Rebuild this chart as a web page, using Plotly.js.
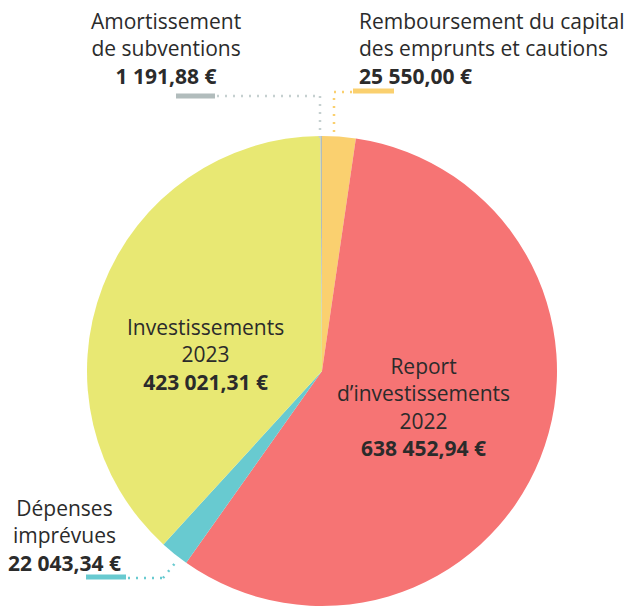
<!DOCTYPE html>
<html>
<head>
<meta charset="utf-8">
<script src="https://cdn.plot.ly/plotly-3.0.1.min.js"></script>
<style>
  body { margin: 0; background: #fff; }
  #plot { width: 629px; height: 607px; }
</style>
</head>
<body>
<div id="plot"></div>
<script>
// slices, clockwise from 12 o'clock
var labels = [
  "Remboursement du capital<br>des emprunts et cautions",
  "Report<br>d’investissements<br>2022",
  "Dépenses<br>imprévues",
  "Investissements<br>2023",
  "Amortissement<br>de subventions"
];
var values = [25550.00, 638452.94, 22043.34, 423021.31, 1191.88];
var colors = ["#fad06f", "#f67474", "#68cad0", "#e8e873", "#b1bcbc"];

// label anchor in pixels (x, y of block centre) and alignment
var labelX = [357, 423, 64, 205, 166];
var labelY = [49, 407, 535, 354, 49];
var labelAlign = ["left", "center", "center", "center", "center"];

var W = 629, H = 607;

function euro(v) {
  var parts = v.toFixed(2).split(".");
  var int = parts[0].replace(/\B(?=(\d{3})+(?!\d))/g, " ");
  return int + "," + parts[1] + " €";
}

var trace = {
  type: "pie",
  values: values,
  labels: labels,
  marker: { colors: colors, line: { width: 0 } },
  sort: false,
  direction: "clockwise",
  rotation: 0,
  textinfo: "none",
  hoverinfo: "none",
  domain: { x: [87 / W, 557 / W], y: [1 - 606 / H, 1 - 136 / H] },
  showlegend: false
};

var annotations = labels.map(function (l, i) {
  return {
    xref: "paper", yref: "paper",
    x: labelX[i] / W, y: 1 - labelY[i] / H,
    xanchor: labelAlign[i] === "left" ? "left" : "center",
    yanchor: "middle",
    align: labelAlign[i],
    showarrow: false,
    text: l + "<br><b>" + euro(values[i]) + "</b>",
    font: { family: "Open Sans", size: 21, color: "#2b2b2b" }
  };
});

function px(x) { return x / W; }
function py(y) { return 1 - y / H; }
function seg(x0, y0, x1, y1, color, width, dash) {
  return {
    type: "line", xref: "paper", yref: "paper",
    x0: px(x0), y0: py(y0), x1: px(x1), y1: py(y1),
    line: { color: color, width: width, dash: dash || "solid" }
  };
}

var dots = "2px,6px";
var shapes = [
  // Amortissement leader
  seg(176, 96, 215, 96, colors[4], 5),
  seg(217, 96, 320, 96, "#c5d0d0", 2.5, dots),
  seg(320, 96, 320, 140, "#c5d0d0", 2.5, dots),
  // Remboursement leader
  seg(334, 140, 334, 92, "#fad06f", 2.5, dots),
  seg(334, 92, 352, 92, "#fad06f", 2.5, dots),
  seg(353, 91, 394, 91, colors[0], 5),
  // Dépenses leader
  seg(86, 577, 126, 577, colors[2], 5),
  seg(128, 578, 163, 578, colors[2], 2.5, dots),
  seg(163, 578, 176, 562, colors[2], 2.5, dots)
];

var layout = {
  width: W, height: H,
  margin: { l: 0, r: 0, t: 0, b: 0 },
  paper_bgcolor: "#ffffff",
  annotations: annotations,
  shapes: shapes
};

Plotly.newPlot("plot", [trace], layout, { staticPlot: true });
</script>
</body>
</html>
